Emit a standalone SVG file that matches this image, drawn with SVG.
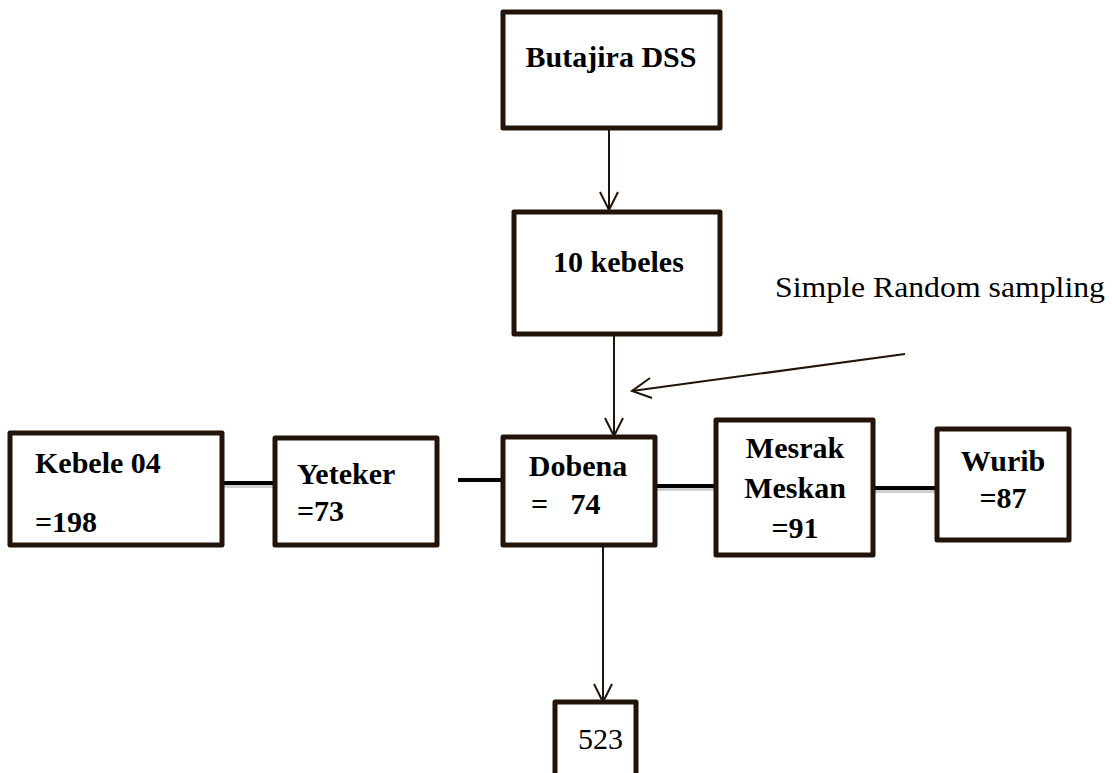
<svg xmlns="http://www.w3.org/2000/svg" width="1112" height="773" viewBox="0 0 1112 773">
<defs>
<style>
.box{fill:#fff;stroke:#221409;stroke-width:5;stroke-linejoin:round}
.t{font-family:"Liberation Serif","Times New Roman",serif;font-weight:bold;font-size:30px;fill:#000}
.r{font-family:"Liberation Serif","Times New Roman",serif;font-size:30px;fill:#000}
.link{stroke:#000;stroke-width:4;fill:none}
.shadow{stroke:#cfcfcf;stroke-width:4;fill:none}
.arr{stroke:#221409;stroke-width:2;fill:none}
</style>
</defs>
<rect width="1112" height="773" fill="#fff"/>
<g id="connectors">
<line class="shadow" x1="217" y1="486" x2="275" y2="486"/>
<line class="shadow" x1="657" y1="489" x2="716" y2="489"/>
<line class="shadow" x1="875" y1="491" x2="937" y2="491"/>
<line class="link" x1="215" y1="483" x2="275" y2="483"/>
<line class="link" x1="458" y1="480" x2="503" y2="480"/>
<line class="link" x1="655" y1="486" x2="716" y2="486"/>
<line class="link" x1="873" y1="488" x2="937" y2="488"/>
<line class="arr" x1="609" y1="130" x2="609" y2="210"/>
<polyline class="arr" points="600,192 609,210 618,192"/>
<line class="arr" x1="614" y1="336" x2="614" y2="436"/>
<polyline class="arr" points="605,418 614,436 623,418"/>
<line class="arr" x1="905" y1="354" x2="632" y2="391"/>
<polyline class="arr" points="650,378 632,391 652,398"/>
<line class="arr" x1="603" y1="540" x2="603" y2="702"/>
<polyline class="arr" points="594,684 603,702 612,684"/>
</g>
<g id="butajira">
<rect class="box" x="503" y="12" width="217" height="116"/>
<text class="t" x="611" y="67" text-anchor="middle">Butajira DSS</text>
</g>
<g id="kebeles10">
<rect class="box" x="514" y="212" width="206" height="122"/>
<text class="t" x="553" y="272">10 kebeles</text>
</g>
<text class="r" x="775" y="297" textLength="330" lengthAdjust="spacingAndGlyphs">Simple Random sampling</text>
<g id="kebele04">
<rect class="box" x="10" y="433" width="212" height="112"/>
<text class="t" x="35" y="473">Kebele 04</text>
<text class="t" x="35" y="532">=198</text>
</g>
<g id="yeteker">
<rect class="box" x="275" y="438" width="162" height="107"/>
<text class="t" x="297" y="484">Yeteker</text>
<text class="t" x="297" y="521">=73</text>
</g>
<g id="dobena">
<rect class="box" x="503" y="437" width="152" height="108"/>
<text class="t" x="578" y="476" text-anchor="middle">Dobena</text>
<text class="t" x="531" y="514" xml:space="preserve">=   74</text>
</g>
<g id="mesrak">
<rect class="box" x="716" y="420" width="157" height="135"/>
<text class="t" x="795" y="458" text-anchor="middle">Mesrak</text>
<text class="t" x="795" y="498" text-anchor="middle">Meskan</text>
<text class="t" x="795" y="538" text-anchor="middle">=91</text>
</g>
<g id="wurib">
<rect class="box" x="937" y="429" width="132" height="111"/>
<text class="t" x="1003" y="471" text-anchor="middle">Wurib</text>
<text class="t" x="1003" y="508" text-anchor="middle">=87</text>
</g>
<g id="n523">
<rect class="box" x="555" y="702" width="81" height="80"/>
<text class="r" x="578" y="749">523</text>
</g>
</svg>
